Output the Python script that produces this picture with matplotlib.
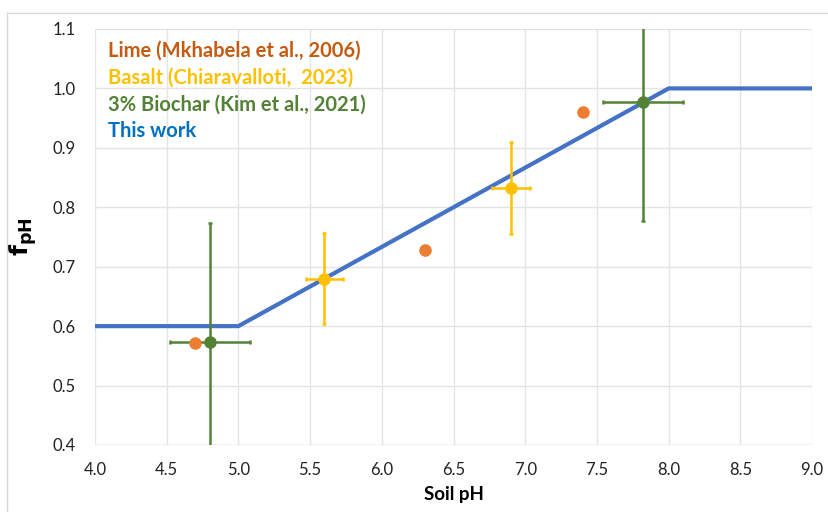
import matplotlib.pyplot as plt
from matplotlib.lines import Line2D

plt.rcParams['font.family'] = ['Lato', 'DejaVu Sans']

# model line (this work)
model_ph = [4.0, 5.0, 8.0, 9.0]
model_f = [0.6, 0.6, 1.0, 1.0]

# Lime (Mkhabela et al., 2006)
lime_ph = [4.7, 6.3, 7.4]
lime_f = [0.571, 0.728, 0.961]

# Basalt (Chiaravalloti, 2023)
basalt_ph = [5.6, 6.9]
basalt_f = [0.680, 0.832]
basalt_xerr = [0.13, 0.13]
basalt_yerr = [0.077, 0.077]

# 3% Biochar (Kim et al., 2021)
biochar_ph = [4.8, 7.82]
biochar_f = [0.574, 0.977]
biochar_xerr = [0.28, 0.28]
biochar_yerr = [0.2, 0.2]

x_ticks = [4.0, 4.5, 5.0, 5.5, 6.0, 6.5, 7.0, 7.5, 8.0, 8.5, 9.0]
y_ticks = [0.4, 0.5, 0.6, 0.7, 0.8, 0.9, 1.0, 1.1]

blue = '#4472C4'
orange = '#ED7D31'
gold = '#FFC000'
green = '#548235'

fig = plt.figure(figsize=(8.29, 5.12), dpi=100)
ax = fig.add_axes([0.1146, 0.1309, 0.865, 0.8125])

ax.plot(model_ph, model_f, color=blue, lw=3, zorder=2, solid_capstyle='butt')
ax.errorbar(basalt_ph, basalt_f, xerr=basalt_xerr, yerr=basalt_yerr, fmt='o',
            color=gold, ms=8, elinewidth=1.8, capsize=1.5, capthick=1.8, zorder=3)
ax.errorbar(biochar_ph, biochar_f, xerr=biochar_xerr, yerr=biochar_yerr, fmt='o',
            color=green, ms=8, elinewidth=1.8, capsize=1.5, capthick=1.8, zorder=4)
ax.plot(lime_ph, lime_f, 'o', color=orange, ms=8, zorder=5)

ax.set_xlim(4.0, 9.0)
ax.set_ylim(0.4, 1.1)
ax.set_xticks(x_ticks)
ax.set_yticks(y_ticks)
ax.set_xticklabels([f'{t:.1f}' for t in x_ticks])
ax.set_yticklabels([f'{t:.1f}' for t in y_ticks])
ax.tick_params(length=0, labelsize=12, colors='#222222', pad=12)
ax.tick_params(axis='y', pad=14)
ax.grid(True, color='#E4E4E4', lw=1)
ax.set_axisbelow(True)
for s in ax.spines.values():
    s.set_visible(False)
ax.axhline(0.4, color='#D9D9D9', lw=1, zorder=1)

ax.set_xlabel('Soil pH', fontsize=13.5, fontweight='bold', labelpad=6)
ax.set_ylabel(r'$\mathbf{f_{pH}}$', fontsize=18, labelpad=10)

labels = ['Lime (Mkhabela et al., 2006)', 'Basalt (Chiaravalloti,  2023)',
          '3% Biochar (Kim et al., 2021)', 'This work']
label_colors = ['#C55A11', '#FFC000', '#538135', '#0070C0']
for i, (txt, c) in enumerate(zip(labels, label_colors)):
    ax.text(0.018, 0.947 - i * 0.064, txt, transform=ax.transAxes, color=c,
            fontsize=14.5, fontweight='bold', va='center', ha='left')

# outer chart border
fig.add_artist(Line2D([0.008, 0.008], [0, 0.975], color='#D9D9D9', lw=1))
fig.add_artist(Line2D([0.008, 1], [0.975, 0.975], color='#D9D9D9', lw=1))

fig.savefig('out.png', dpi=100)
